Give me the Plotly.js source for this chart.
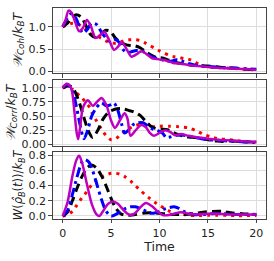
<!DOCTYPE html>
<html><head><meta charset="utf-8">
<script src="https://cdn.plot.ly/plotly-3.0.1.min.js"></script>
<style>body{margin:0;padding:0;background:#fff}#chart{width:274px;height:261px}</style>
</head><body><div id="chart"></div>
<script>
// ---- Panel 1: W_Coh / k_B T ----
const tM1 = [0,0.3,0.6,0.9,1.3,1.7,2.1,2.5,2.9,3.4,3.9,4.3,4.8,5.3,5.7,6.1,6.6,7.1,7.6,8.1,8.6,9.2,9.7,10.2,10.7,11.4,12,12.6,13.2,14,15,16,17,18,19,20];
const vM1 = [1.0,1.15,1.36,1.32,1.1,0.9,0.98,1.15,1.02,0.75,0.82,0.89,0.7,0.48,0.55,0.66,0.5,0.33,0.38,0.45,0.4,0.3,0.28,0.26,0.24,0.19,0.18,0.16,0.14,0.12,0.1,0.08,0.07,0.06,0.05,0.04];
const tB1 = [0,0.45,0.9,1.4,1.8,2.1,2.5,3.0,3.5,4.0,4.5,4.9,5.3,5.8,6.2,6.6,7.1,7.6,8.2,8.8,9.4,10,10.6,11.2,11.8,12.5,13.2,14,15,16,17,18,19,20];
const vB1 = [1.0,1.18,1.3,1.18,0.95,0.86,0.93,1.08,1.05,0.88,0.74,0.67,0.72,0.66,0.5,0.42,0.44,0.47,0.46,0.38,0.31,0.28,0.24,0.23,0.26,0.22,0.17,0.13,0.11,0.1,0.08,0.07,0.06,0.05];
const tK1 = [0,0.5,1.0,1.4,1.9,2.4,2.9,3.4,3.9,4.4,4.9,5.4,5.9,6.5,7.0,7.5,8.0,8.6,9.2,9.7,10.3,11,11.7,12.5,13.3,14,15,16,17,18,19,20];
const vK1 = [1.0,1.08,1.22,1.27,1.22,1.03,0.82,0.76,0.83,0.92,0.9,0.76,0.66,0.6,0.58,0.57,0.53,0.44,0.36,0.31,0.3,0.25,0.2,0.17,0.14,0.13,0.12,0.1,0.08,0.07,0.05,0.04];
const tR1 = [0,0.5,1.0,1.5,2.0,2.5,3.0,3.5,4.0,4.5,5.0,5.5,6.0,6.5,7.0,7.5,8.0,8.5,9.0,9.5,10.0,10.5,11,11.5,12,12.5,13,13.5,14,14.5,15,15.5,16,17,18,19,20];
const vR1 = [1.0,1.04,1.08,1.07,1.0,0.92,0.86,0.8,0.74,0.68,0.64,0.63,0.66,0.7,0.71,0.71,0.69,0.64,0.58,0.52,0.46,0.41,0.36,0.33,0.31,0.29,0.27,0.23,0.17,0.12,0.1,0.09,0.085,0.075,0.06,0.045,0.035];

// ---- Panel 2: W_Corr / k_B T ----
const tM2 = [0,0.4,0.8,1.0,1.2,1.45,1.6,1.8,2.1,2.6,3.1,3.6,4.0,4.5,5.0,5.4,5.9,6.4,6.7,7.0,7.5,8.1,8.6,9.0,9.4,10.0,10.6,11.1,11.6,12.2,13,14,15,16,17,18,19,20];
const vM2 = [1.0,1.07,1.02,0.9,0.6,0.2,0.09,0.3,0.65,0.78,0.68,0.76,0.82,0.7,0.42,0.29,0.42,0.55,0.45,0.15,0.24,0.34,0.3,0.2,0.15,0.2,0.25,0.22,0.16,0.18,0.15,0.12,0.1,0.08,0.07,0.06,0.05,0.04];
const tB2 = [0,0.5,1.0,1.4,1.75,2.2,2.6,3.0,3.5,4.0,4.5,5.0,5.3,5.7,6.1,6.4,6.8,7.3,7.8,8.3,8.8,9.3,9.8,10.3,10.7,11.1,11.8,12.5,13.2,14,15,16,17,18,19,20];
const vB2 = [1.0,1.06,0.95,0.68,0.38,0.1,0.26,0.5,0.65,0.73,0.68,0.7,0.73,0.6,0.35,0.2,0.25,0.35,0.38,0.38,0.32,0.27,0.24,0.2,0.12,0.13,0.16,0.16,0.14,0.11,0.08,0.07,0.06,0.05,0.04,0.03];
const tK2 = [0,0.5,0.9,1.3,1.75,2.25,2.75,3.1,3.6,4.15,4.7,5.4,6.1,6.8,7.4,8.0,8.6,9.1,9.6,10.2,10.8,11.3,11.8,12.4,13.0,13.8,14.5,15.2,15.8,16.5,17.3,18.2,19.2,20];
const vK2 = [1.0,1.03,1.02,0.92,0.72,0.44,0.2,0.12,0.24,0.44,0.56,0.62,0.63,0.6,0.57,0.51,0.4,0.32,0.28,0.27,0.26,0.22,0.18,0.15,0.13,0.12,0.1,0.07,0.06,0.05,0.06,0.05,0.04,0.04];
const tR2 = [0,0.5,1.0,1.4,2.0,2.5,2.8,3.1,3.5,4.0,4.5,5.0,5.5,6.0,6.5,7.0,7.5,8.0,8.5,9.0,9.5,10.0,11.0,12.0,13.0,13.8,14.5,15.3,16,17,18,19,20];
const vR2 = [1.0,1.0,0.97,0.91,0.82,0.71,0.65,0.53,0.41,0.27,0.15,0.08,0.1,0.18,0.24,0.29,0.33,0.35,0.35,0.32,0.31,0.32,0.32,0.31,0.29,0.24,0.18,0.13,0.1,0.085,0.065,0.05,0.04];

// ---- Panel 3: W(rho_B(t)) / k_B T ----
const tM3 = [0,0.5,1.0,1.4,1.7,2.0,2.5,3.0,3.5,3.8,4.2,4.7,5.2,5.7,6.2,6.7,7.0,7.5,8.0,8.6,9.2,9.8,10.4,10.8,11.5,12.2,13.0,14.0,15.0,16.0,17.0,18.0,19.0,20.0];
const vM3 = [0,0.18,0.52,0.73,0.79,0.7,0.42,0.16,0.02,0.0,0.07,0.16,0.19,0.16,0.09,0.03,0.01,0.04,0.11,0.17,0.13,0.06,0.01,0.01,0.03,0.05,0.03,0.02,0.03,0.03,0.02,0.02,0.02,0.02];
const tB3 = [0,0.5,1.0,1.5,2.0,2.3,2.7,3.0,3.5,4.0,4.5,5.0,5.5,6.0,6.5,7.0,7.5,8.0,8.5,9.0,9.5,10.0,10.5,11.0,11.5,12.0,12.5,13.0,13.5,14.5,15.5,16.5,17.5,18.5,20.0];
const vB3 = [0,0.07,0.28,0.52,0.71,0.74,0.71,0.63,0.43,0.22,0.06,0.0,0.02,0.06,0.10,0.12,0.12,0.10,0.07,0.04,0.04,0.06,0.09,0.11,0.12,0.10,0.06,0.04,0.02,0.02,0.03,0.03,0.02,0.02,0.02];
const tK3 = [0,0.5,1.0,1.5,2.0,2.5,3.0,3.5,4.0,4.5,5.0,5.5,6.0,6.5,7.0,7.5,8.5,9.5,10.5,11.5,12.5,13.5,14.5,15.5,16.5,17.5,18.5,20.0];
const vK3 = [0,0.05,0.2,0.37,0.52,0.63,0.67,0.63,0.53,0.39,0.23,0.1,0.03,0.01,0.01,0.02,0.04,0.04,0.03,0.02,0.02,0.03,0.05,0.06,0.06,0.04,0.03,0.02];
const tR3 = [0,0.5,1.0,1.5,2.0,2.5,3.0,3.5,4.0,4.5,5.0,5.5,6.0,6.5,7.0,7.5,8.0,8.5,9.0,9.5,10.0,10.5,11.0,11.5,12.0,12.5,13.0,14.0,15.0,16.0,17.0,18.0,19.0,20.0];
const vR3 = [0,0.015,0.06,0.15,0.24,0.32,0.41,0.47,0.51,0.54,0.56,0.56,0.545,0.51,0.46,0.40,0.34,0.28,0.23,0.18,0.14,0.10,0.065,0.04,0.03,0.02,0.01,0.005,0.01,0.01,0.01,0.005,0.005,0.005];

// ---- ticks / labels ----
const xTicks = [0,5,10,15,20];
const y1Ticks = [0,0.5,1.0], y1Text = ["0.0","0.5","1.0"];
const y2Ticks = [0,0.25,0.5,0.75,1.0], y2Text = ["0.00","0.25","0.50","0.75","1.00"];
const y3Ticks = [0,0.2,0.4,0.6,0.8], y3Text = ["0.0","0.2","0.4","0.6","0.8"];
const xTitle = "Time";
const y1Title = "<i>𝒲</i><sub><i>Coh</i></sub>/<i>k</i><sub><i>B</i></sub><i>T</i>";
const y2Title = "<i>𝒲</i><sub><i>Corr</i></sub>/<i>k</i><sub><i>B</i></sub><i>T</i>";
const y3Title = "<i>W</i>(<i>ρ̂</i><sub><i>B</i></sub>(<i>t</i>))/<i>k</i><sub><i>B</i></sub><i>T</i>";

const styles = {
  R: {color:'#ff0000', width:3, dash:'3px,5px'},
  K: {color:'#000000', width:3, dash:'9px,5px'},
  B: {color:'#0000ff', width:3, dash:'10px,4px,3px,4px'},
  M: {color:'#bf00bf', width:2.5, dash:'solid'}
};
function tr(x, y, s, ax){
  return {x:x, y:y, type:'scatter', mode:'lines', xaxis:'x'+(ax===1?'':ax), yaxis:'y'+(ax===1?'':ax),
    line:Object.assign({shape:'spline', smoothing:0.8}, styles[s]), hoverinfo:'skip', showlegend:false};
}
const data = [
  tr(tR1,vR1,'R',1), tr(tK1,vK1,'K',1), tr(tB1,vB1,'B',1), tr(tM1,vM1,'M',1),
  tr(tR2,vR2,'R',2), tr(tK2,vK2,'K',2), tr(tB2,vB2,'B',2), tr(tM2,vM2,'M',2),
  tr(tR3,vR3,'R',3), tr(tK3,vK3,'K',3), tr(tB3,vB3,'B',3), tr(tM3,vM3,'M',3)
];
const H = 261;
const font = {family:'DejaVu Sans', size:11, color:'#222'};
function xa(anchor, showLabels){
  return {anchor:anchor, domain:[0,1], range:[-1,21], tickvals:xTicks, ticktext:xTicks.map(String),
    showticklabels:showLabels, ticks:'outside', ticklen:3.5, tickwidth:1, tickcolor:'#444',
    showgrid:true, gridcolor:'#dddddd', gridwidth:1, zeroline:false,
    showline:true, mirror:true, linecolor:'#444', linewidth:1.3, tickfont:font};
}
function ya(anchor, dom, rng, tv, tt, title, tsize){
  return {anchor:anchor, domain:dom, range:rng, tickvals:tv, ticktext:tt,
    ticks:'outside', ticklen:3.5, tickwidth:1, tickcolor:'#444',
    showgrid:true, gridcolor:'#dddddd', gridwidth:1, zeroline:false,
    showline:true, mirror:true, linecolor:'#444', linewidth:1.3, tickfont:font,
    title:{text:title, font:{family:'DejaVu Sans', size:tsize, color:'#222'}, standoff:3}};
}
const layout = {
  width:274, height:261, margin:{l:53, r:8, t:0, b:0}, paper_bgcolor:'#fff', plot_bgcolor:'#fff',
  showlegend:false, font:font,
  xaxis: xa('y', false),
  xaxis2: xa('y2', false),
  xaxis3: Object.assign(xa('y3', true), {title:{text:xTitle, font:{family:'DejaVu Sans', size:12.5, color:'#222'}, standoff:3}}),
  yaxis: ya('x', [1-73/H, 1-8/H], [-0.035,1.42], y1Ticks, y1Text, y1Title, 12.5),
  yaxis2: ya('x2', [1-146/H, 1-80/H], [-0.03,1.136], y2Ticks, y2Text, y2Title, 12.5),
  yaxis3: ya('x3', [1-218.5/H, 1-152/H], [-0.033,0.84], y3Ticks, y3Text, y3Title, 11.5)
};
Plotly.newPlot('chart', data, layout, {staticPlot:true, displayModeBar:false});
</script></body></html>
